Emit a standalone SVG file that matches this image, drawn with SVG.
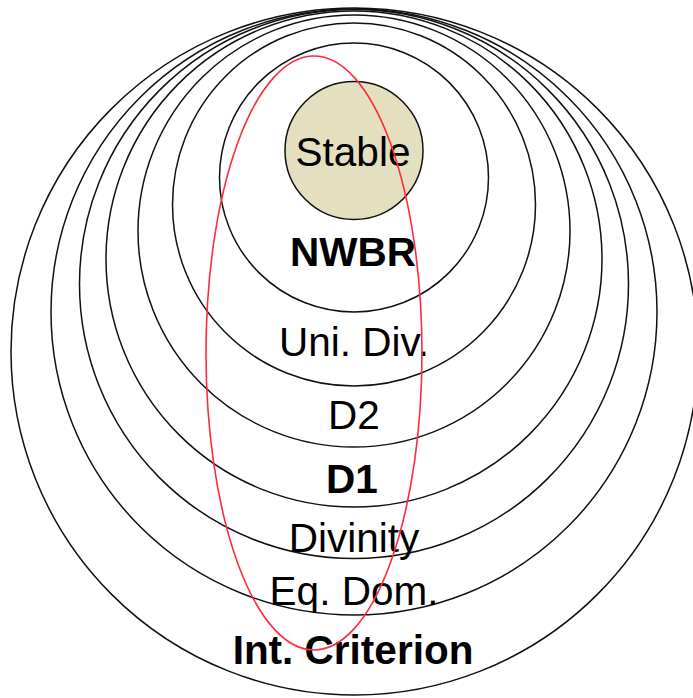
<svg xmlns="http://www.w3.org/2000/svg" width="693" height="698" viewBox="0 0 693 698">
  <style>
    .ring { fill: none; stroke: #111; stroke-width: 1.5; }
    .core { fill: #e4dfbf; stroke: #111; stroke-width: 1.5; }
    .lbl { font-family: "Liberation Sans", Arial, sans-serif; font-size: 40.5px; fill: #000; text-anchor: middle; }
    .bold { font-weight: bold; }
    .hl { fill: none; stroke: #ff2a3c; stroke-width: 1.6; }
  </style>
  <rect width="693" height="698" fill="#fff"/>

  <!-- nested solution concepts, outermost first -->
  <g id="int-criterion">
    <circle class="ring" cx="354.5" cy="351.5" r="343.5"/>
    <text class="lbl bold" x="353" y="664">Int. Criterion</text>
  </g>
  <g id="eq-dom">
    <circle class="ring" cx="354" cy="312" r="303"/>
    <text class="lbl" x="354" y="605">Eq. Dom.</text>
  </g>
  <g id="divinity">
    <circle class="ring" cx="354" cy="284" r="274.5"/>
    <text class="lbl" x="354" y="552">Divinity</text>
  </g>
  <g id="d1">
    <circle class="ring" cx="354" cy="259" r="248"/>
    <text class="lbl bold" x="352" y="493">D1</text>
  </g>
  <g id="d2">
    <circle class="ring" cx="354" cy="231" r="216"/>
    <text class="lbl" x="354" y="429">D2</text>
  </g>
  <g id="uni-div">
    <circle class="ring" cx="354" cy="204.5" r="181.5"/>
    <text class="lbl" x="354" y="356">Uni. Div.</text>
  </g>
  <g id="nwbr">
    <circle class="ring" cx="354" cy="177.5" r="134.5"/>
    <text class="lbl bold" x="353" y="266">NWBR</text>
  </g>
  <g id="stable">
    <circle class="core" cx="354" cy="150.5" r="69"/>
    <text class="lbl" x="353" y="166">Stable</text>
  </g>

  <!-- highlighted region -->
  <g id="highlight">
    <ellipse class="hl" cx="314" cy="353" rx="108" ry="297"/>
  </g>
</svg>
